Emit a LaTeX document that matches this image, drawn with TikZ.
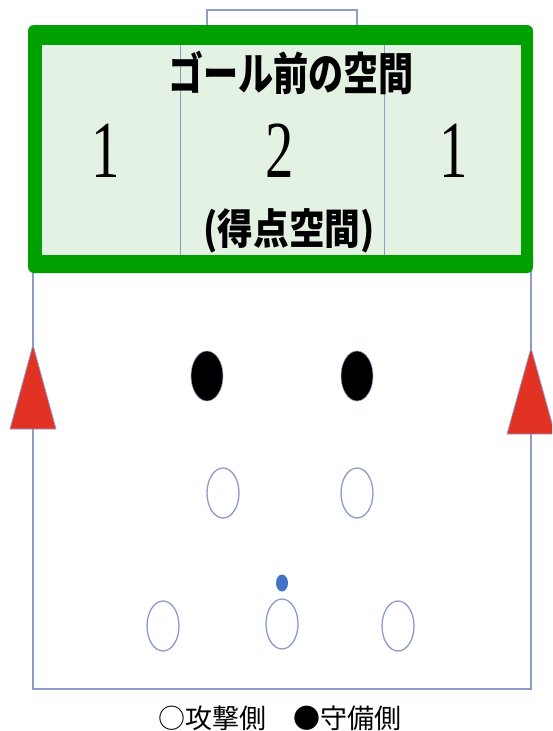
\documentclass[tikz,border=0pt]{standalone}
\usepackage{fontspec}
\newfontfamily\cjk{Noto Sans CJK JP}
\newfontfamily\numfont{Liberation Serif}
\usetikzlibrary{shapes.geometric}
\definecolor{lineblue}{RGB}{140,155,200}
\definecolor{goalgreen}{RGB}{0,160,0}
\definecolor{zonefill}{RGB}{228,242,228}
\definecolor{conered}{RGB}{226,50,36}
\definecolor{ballblue}{RGB}{68,114,196}
\tikzset{
  fieldline/.style={draw=lineblue, line width=1.3pt},
  attacker/.style={ellipse, draw=lineblue, line width=1.3pt, fill=white, minimum width=32pt, minimum height=50pt, inner sep=0pt},
  defender/.style={ellipse, draw=lineblue, line width=0.6pt, fill=black, minimum width=32pt, minimum height=50pt, inner sep=0pt},
  ballstyle/.style={ellipse, fill=ballblue, minimum width=12pt, minimum height=17pt, inner sep=0pt},
  cone/.style={fill=conered, draw=lineblue, line width=0.8pt},
  txt/.style={inner sep=0pt, anchor=center},
}
\begin{document}
\begin{tikzpicture}[x=1pt, y=-1pt]
\useasboundingbox (0,0) rectangle (552,731);
\clip (0,0) rectangle (552,731);
% goal
\draw[fieldline] (207,30) -- (207,10) -- (357,10) -- (357,30);
% field lines
\coordinate (bl) at (33,689);
\coordinate (br) at (531,689);
\coordinate (tl) at (33,265);
\coordinate (tr) at (531,265);
\draw[fieldline] (tl) -- (bl) -- (br) -- (tr);
% goal area box
\fill[goalgreen, rounded corners=6pt] (28,25) rectangle (533,273);
\fill[zonefill] (42,45) rectangle (521,255);
\draw[lineblue, line width=1pt] (180,45) -- (180,255);
\draw[lineblue, line width=1pt] (384,45) -- (384,255);
% texts
\node[txt] (title) at (291,73) {\scalebox{0.78}[1]{\cjk\fontsize{45}{50}\selectfont\bfseries ゴール前の空間}};
\node[txt] (n1) at (106,151) {\scalebox{0.7}[1]{\numfont\fontsize{81}{90}\selectfont 1}};
\node[txt] (n2) at (280,151) {\scalebox{0.7}[1]{\numfont\fontsize{81}{90}\selectfont 2}};
\node[txt] (n3) at (454,151) {\scalebox{0.7}[1]{\numfont\fontsize{81}{90}\selectfont 1}};
\node[txt] (score) at (289,231) {\scalebox{0.85}[1]{\cjk\fontsize{42}{46}\selectfont\bfseries (得点空間)}};
% cones
\draw[cone] (33,345) -- (56,429) -- (10,429) -- cycle;
\draw[cone] (531,348) -- (555,434) -- (507,434) -- cycle;
% players
\node[defender] (d1) at (207,376) {};
\node[defender] (d2) at (357,376) {};
\node[attacker] (a1) at (223,493) {};
\node[attacker] (a2) at (357,493) {};
\node[attacker] (a3) at (163,626) {};
\node[attacker] (a4) at (282,624) {};
\node[attacker] (a5) at (398,626) {};
\node[ballstyle] (ball) at (282,583) {};
% legend
\node[txt] (legend) at (280,718) {\cjk\fontsize{27}{30}\selectfont ○攻撃側　●守備側};
\end{tikzpicture}
\end{document}
